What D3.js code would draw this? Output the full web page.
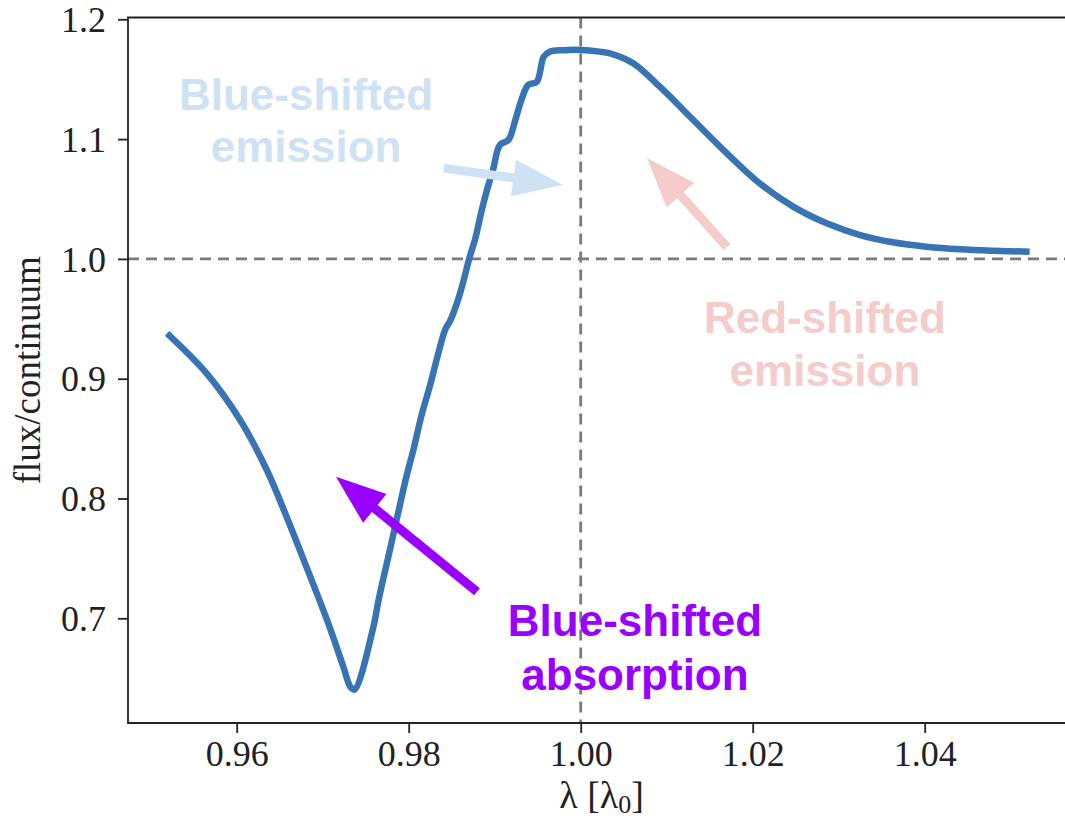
<!DOCTYPE html>
<html>
<head>
<meta charset="utf-8">
<script src="https://cdn.jsdelivr.net/npm/d3@7"></script>
<style>
  html, body { margin: 0; padding: 0; background: #fff; }
  svg { display: block; }
</style>
</head>
<body>
<svg id="chart" width="1065" height="825"></svg>
<script>
// Line profile: wavelength in units of the rest wavelength, flux normalised to the continuum
const wavelength = [
  0.9519, 0.9565, 0.9604, 0.9635, 0.9658, 0.9681, 0.9705, 0.9724, 0.9732, 0.9737,
  0.9759, 0.9765, 0.9776, 0.9788, 0.9797, 0.9806, 0.9815, 0.9825, 0.9833,
  0.9841, 0.9844, 0.9848, 0.9856, 0.9863, 0.9871, 0.9877, 0.9885, 0.9891, 0.9898,
  0.9906, 0.9916, 0.9924, 0.9931, 0.9939, 0.9949, 0.9957, 0.9964, 0.9980, 1.0000,
  1.0022, 1.0034, 1.0061, 1.0092, 1.0131, 1.0170, 1.0208, 1.0247, 1.0286, 1.0325,
  1.0363, 1.0402, 1.0441, 1.0480, 1.0522
];
const flux = [
  0.9379, 0.9045, 0.8655, 0.8238, 0.7848, 0.7431, 0.6986, 0.6596, 0.6430, 0.6405,
  0.6930, 0.7153, 0.7504, 0.7888, 0.8172, 0.8422, 0.8697, 0.8948, 0.9173,
  0.9382, 0.9434, 0.9480, 0.9629, 0.9796, 1.0018, 1.0158, 1.0408, 1.0575, 1.0742,
  1.0951, 1.0993, 1.1160, 1.1326, 1.1452, 1.1479, 1.1688, 1.1730, 1.1742, 1.1744,
  1.1730, 1.1716, 1.1633, 1.1437, 1.1159, 1.0881, 1.0631, 1.0436, 1.0297, 1.0199,
  1.0139, 1.0102, 1.0080, 1.0068, 1.0060
];

const xTicks = [0.96, 0.98, 1.00, 1.02, 1.04];
const yTicks = [0.7, 0.8, 0.9, 1.0, 1.1, 1.2];

// Reference lines: rest wavelength and continuum level
const restWavelength = 1.0;
const continuumLevel = 1.0;

// Annotation labels (text lines, anchor in data units) and their arrows (tail -> tip)
const annotationLines = [
  ["Blue-shifted", "emission"],
  ["Red-shifted", "emission"],
  ["Blue-shifted", "absorption"]
];
const annotationX = [0.96807, 1.02840, 1.00631];
const annotationY = [[1.1243, 1.0809], [0.9381, 0.8939], [0.6852, 0.6402]];
const annotationColors = ["#cfe2f3", "#f4cccc", "#9900ff"];
const arrowTail = [[0.98410, 1.0758], [1.01701, 1.0100], [0.98794, 0.7221]];
const arrowTip  = [[0.99794, 1.0616], [1.00771, 1.0843], [0.97155, 0.8181]];

const svg = d3.select("#chart");
const left = 128, bottom = 723;

const x = d3.scaleLinear().domain([0.94736, 1.0575]).range([left, left + (1.0575 - 0.94736) * 8600]);
const y = d3.scaleLinear().domain([0.6126, 1.2015]).range([bottom, bottom - (1.2015 - 0.6126) * 1198]);

const [x0, x1] = x.range();
const [yb, yt] = y.range();

const serif = "'Liberation Serif', 'Times New Roman', serif";
const sans = "'Liberation Sans', Arial, Helvetica, sans-serif";

// Dashed reference lines
svg.append("line")
  .attr("x1", x(restWavelength)).attr("x2", x(restWavelength))
  .attr("y1", yt).attr("y2", yb)
  .attr("stroke", "#7b7b7b").attr("stroke-width", 2.8)
  .attr("stroke-dasharray", "11,7");
svg.append("line")
  .attr("x1", x0).attr("x2", x1)
  .attr("y1", y(continuumLevel)).attr("y2", y(continuumLevel))
  .attr("stroke", "#7b7b7b").attr("stroke-width", 2.8)
  .attr("stroke-dasharray", "11,7");

// Profile
const line = d3.line()
  .x((d, i) => x(wavelength[i]))
  .y((d, i) => y(flux[i]))
  .curve(d3.curveCatmullRom.alpha(0.5));

svg.append("path")
  .datum(flux)
  .attr("d", line)
  .attr("fill", "none")
  .attr("stroke", "#3874b3")
  .attr("stroke-width", 6.5)
  .attr("stroke-linejoin", "round")
  .attr("stroke-linecap", "butt");

// Axes frame
const frame = svg.append("g").attr("stroke", "#222").attr("stroke-width", 1.8).attr("fill", "none");
frame.append("path").attr("d", `M${x1},${yt}H${x0}V${yb}H${x1}V${yt}`);

// Axes
const xAxis = d3.axisBottom(x).tickValues(xTicks).tickFormat(d3.format(".2f")).tickSizeOuter(0).tickSize(10).tickPadding(7);
const yAxis = d3.axisLeft(y).tickValues(yTicks).tickFormat(d3.format(".1f")).tickSizeOuter(0).tickSize(10).tickPadding(12);

const gx = svg.append("g").attr("transform", `translate(0,${yb})`).call(xAxis);
const gy = svg.append("g").attr("transform", `translate(${x0},0)`).call(yAxis);
[gx, gy].forEach(g => {
  g.select(".domain").remove();
  g.selectAll(".tick line").attr("stroke", "#222").attr("stroke-width", 1.8);
  g.selectAll(".tick text").attr("fill", "#222").style("font-family", serif).style("font-size", "36px");
});
gy.selectAll(".tick text").attr("dy", "0.34em");

// Axis titles
svg.append("text")
  .attr("transform", `translate(40,${(yt + yb) / 2}) rotate(-90)`)
  .attr("text-anchor", "middle")
  .style("font-family", serif).style("font-size", "37px").attr("fill", "#222")
  .text("flux/continuum");

const xt = svg.append("text")
  .attr("x", (x0 + x1) / 2).attr("y", 808)
  .attr("text-anchor", "middle")
  .style("font-family", serif).style("font-size", "38px").attr("fill", "#222");
xt.append("tspan").text("λ [λ");
xt.append("tspan").attr("dy", 5).style("font-size", "26px").text("0");
xt.append("tspan").attr("dy", -5).text("]");

// Arrow polygons built from tail and tip
function arrowPath(tail, tip, shaft, headW, headL) {
  const ax = x(tail[0]), ay = y(tail[1]);
  const bx = x(tip[0]), by = y(tip[1]);
  const dx = bx - ax, dy = by - ay;
  const len = Math.hypot(dx, dy);
  const ux = dx / len, uy = dy / len;
  const px = -uy, py = ux;
  const hx = bx - ux * headL, hy = by - uy * headL;
  const pts = [
    [ax + px * shaft / 2, ay + py * shaft / 2],
    [hx + px * shaft / 2, hy + py * shaft / 2],
    [hx + px * headW / 2, hy + py * headW / 2],
    [bx, by],
    [hx - px * headW / 2, hy - py * headW / 2],
    [hx - px * shaft / 2, hy - py * shaft / 2],
    [ax - px * shaft / 2, ay - py * shaft / 2]
  ];
  return "M" + pts.map(p => p.join(",")).join("L") + "Z";
}

annotationLines.forEach((lines, i) => {
  svg.append("path")
    .attr("d", arrowPath(arrowTail[i], arrowTip[i], 9, 37, 50))
    .attr("fill", annotationColors[i]);
  const t = svg.append("text")
    .attr("text-anchor", "middle")
    .style("font-family", sans).style("font-weight", "bold").style("font-size", "44px")
    .attr("fill", annotationColors[i]);
  lines.forEach((s, j) => {
    t.append("tspan").attr("x", x(annotationX[i])).attr("y", y(annotationY[i][j])).text(s);
  });
});
</script>
</body>
</html>
